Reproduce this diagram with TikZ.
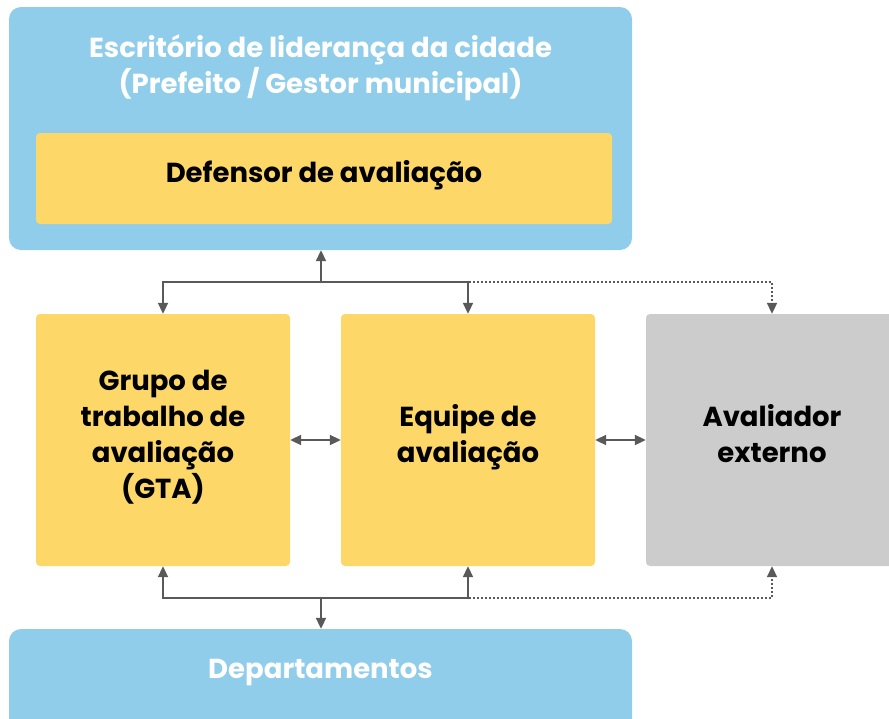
\documentclass[tikz,border=0pt]{standalone}
\usepackage{fontspec}
\setmainfont{Poppins}
\usetikzlibrary{arrows.meta}
\definecolor{cblue}{HTML}{8FCDEB}
\definecolor{cyellow}{HTML}{FDD868}
\definecolor{cgray}{HTML}{CCCCCC}
\definecolor{carrow}{HTML}{595959}
\begin{document}
\begin{tikzpicture}[x=1pt,y=-1pt,
  box/.style={inner sep=0pt, align=center, font=\fontsize{27.5}{36}\selectfont\bfseries},
  bluebox/.style={box, fill=cblue, rounded corners=12pt, text=white},
  yellowbox/.style={box, fill=cyellow, rounded corners=4pt, text=black},
  graybox/.style={box, fill=cgray, rounded corners=4pt, text=black},
  conn/.style={draw=carrow, line width=2pt},
  arr/.style={conn, -{Triangle[width=10pt,length=11pt]}},
  darr/.style={conn, {Triangle[width=10pt,length=11pt]}-{Triangle[width=10pt,length=11pt]}},
  dotline/.style={draw=carrow, line width=2pt, dotted}
]
\useasboundingbox (0,0) rectangle (889,718);
\clip (0,0) rectangle (889,718);
\node[bluebox, minimum width=623pt, minimum height=243pt] (city) at (320.5,128.5) {};
\node[box, text=white] (citytxt) at (320.5,68) {Escritório de liderança da cidade\\(Prefeito / Gestor municipal)};
\node[yellowbox, minimum width=576pt, minimum height=91pt] (champ) at (324,178.5) {};
\node[box] (champtxt) at (324,175.5) {Defensor de avaliação};
\node[yellowbox, minimum width=254pt, minimum height=252pt] (gta) at (163,440) {};
\node[box] (gtatxt) at (163,437) {Grupo de\\trabalho de\\avaliação\\(GTA)};
\node[yellowbox, minimum width=254pt, minimum height=252pt] (team) at (468,440) {};
\node[box] (teamtxt) at (468,437) {Equipe de\\avaliação};
\node[graybox, minimum width=260pt, minimum height=252pt] (ext) at (776,440) {};
\node[box] (exttxt) at (772,434) {Avaliador\\externo};
\node[bluebox, minimum width=623pt, minimum height=140pt] (dept) at (320.5,699) {};
\node[box, text=white] (depttxt) at (320.5,672) {Departamentos};
\coordinate (extcol) at (772,0);
\coordinate (tophub) at (321,282);
\coordinate (bothub) at (321,598);
% top connectors
\draw[dotline] (tophub) -| ([yshift=12pt]ext.north -| extcol);
\draw[dotline, -{Triangle[width=10pt,length=11pt]}, dash pattern=on 0pt off 100pt] ([yshift=11pt]ext.north -| extcol) -- (ext.north -| extcol);
\draw[arr] (tophub) -- (city.south -| tophub);
\draw[arr] (tophub) -| (gta.north);
\draw[arr] (tophub) -| (team.north);
% bottom connectors
\draw[dotline] (bothub) -| ([yshift=-12pt]ext.south -| extcol);
\draw[dotline, -{Triangle[width=10pt,length=11pt]}, dash pattern=on 0pt off 100pt] ([yshift=-11pt]ext.south -| extcol) -- (ext.south -| extcol);
\draw[arr] (bothub) -- (dept.north -| bothub);
\draw[arr] (bothub) -| (gta.south);
\draw[arr] (bothub) -| (team.south);
% horizontal
\draw[darr] (gta.east) -- (team.west);
\draw[darr] (team.east) -- (ext.west);
\end{tikzpicture}
\end{document}
